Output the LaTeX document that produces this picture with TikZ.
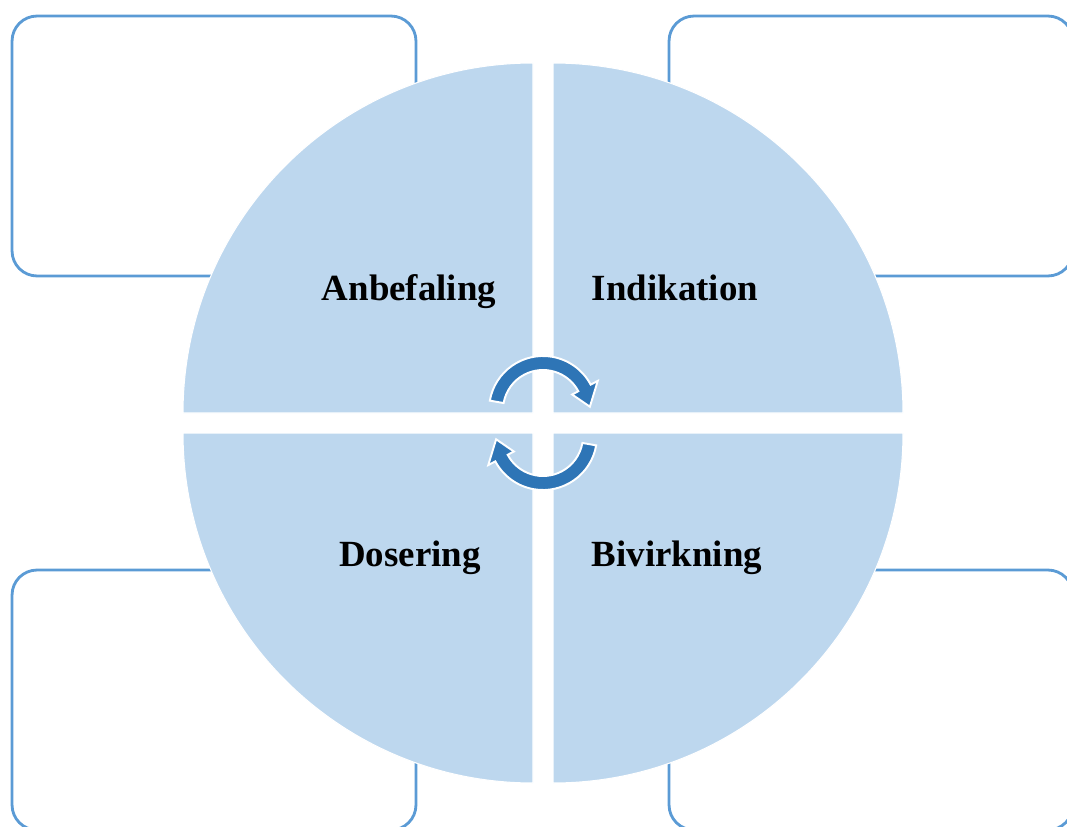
\documentclass[tikz,border=0pt]{standalone}
\usepackage{fontspec}
\setmainfont{Liberation Serif}
\usetikzlibrary{calc}
\definecolor{quadfill}{HTML}{BDD7EE}
\definecolor{boxline}{HTML}{5B9BD5}
\definecolor{cyclearrow}{HTML}{2E75B6}
\tikzset{
  notebox/.style={draw=boxline, line width=1.6pt, fill=white, rounded corners=0.5cm,
    minimum width=8.08cm, minimum height=5.2cm, inner sep=0pt},
  quadrant/.style={fill=quadfill, draw=white, line width=0.6pt},
  quadlabel/.style={font=\fontsize{21}{25}\selectfont\bfseries, text=black,
    inner sep=0pt, anchor=base},
  cyclehead/.style={fill=cyclearrow, draw=white, line width=1.1pt, line join=miter}
}
% half-circle arrow around a local centre at (0,13), pointing clockwise
\newcommand{\halfcycle}{%
  \path[cyclehead] (0,13) ++(170:54) arc[start angle=170, end angle=28, radius=54]
    -- ($(0,13)+(28:62)$) -- ($(0,13)+(4:47)$)
    -- ($(0,13)+(28:33)$) -- ($(0,13)+(28:40)$)
    arc[start angle=28, end angle=170, radius=40] -- cycle;}
\begin{document}
\begin{tikzpicture}[x=0.02cm, y=0.02cm]
  \useasboundingbox (0,0) rectangle (1067,-827);
  \clip (0,0) rectangle (1067,-827);

  % side boxes
  \node[notebox] (boxTL) at (214,-146) {};
  \node[notebox] (boxTR) at (871,-146) {};
  \node[notebox] (boxBL) at (214,-700) {};
  \node[notebox] (boxBR) at (871,-700) {};

  % four quarters of the disc
  \path[quadrant] (533,-413) -- ++(-350,0) arc[start angle=180, end angle=90, radius=350] -- cycle;
  \path[quadrant] (553,-413) -- ++(0,350) arc[start angle=90, end angle=0, radius=350] -- cycle;
  \path[quadrant] (533,-433) -- ++(-350,0) arc[start angle=180, end angle=270, radius=350] -- cycle;
  \path[quadrant] (553,-433) -- ++(0,-350) arc[start angle=270, end angle=360, radius=350] -- cycle;

  % labels
  \node[quadlabel] (anbefaling) at (409,-300) {Anbefaling};
  \node[quadlabel] (indikation) at (675,-300) {Indikation};
  \node[quadlabel] (dosering) at (410,-566) {Dosering};
  \node[quadlabel] (bivirkning) at (677,-566) {Bivirkning};

  % cycle arrows in the middle
  \begin{scope}[shift={(543,-423)}]
    \halfcycle
  \end{scope}
  \begin{scope}[shift={(543,-423)}, rotate=180]
    \halfcycle
  \end{scope}
\end{tikzpicture}
\end{document}
